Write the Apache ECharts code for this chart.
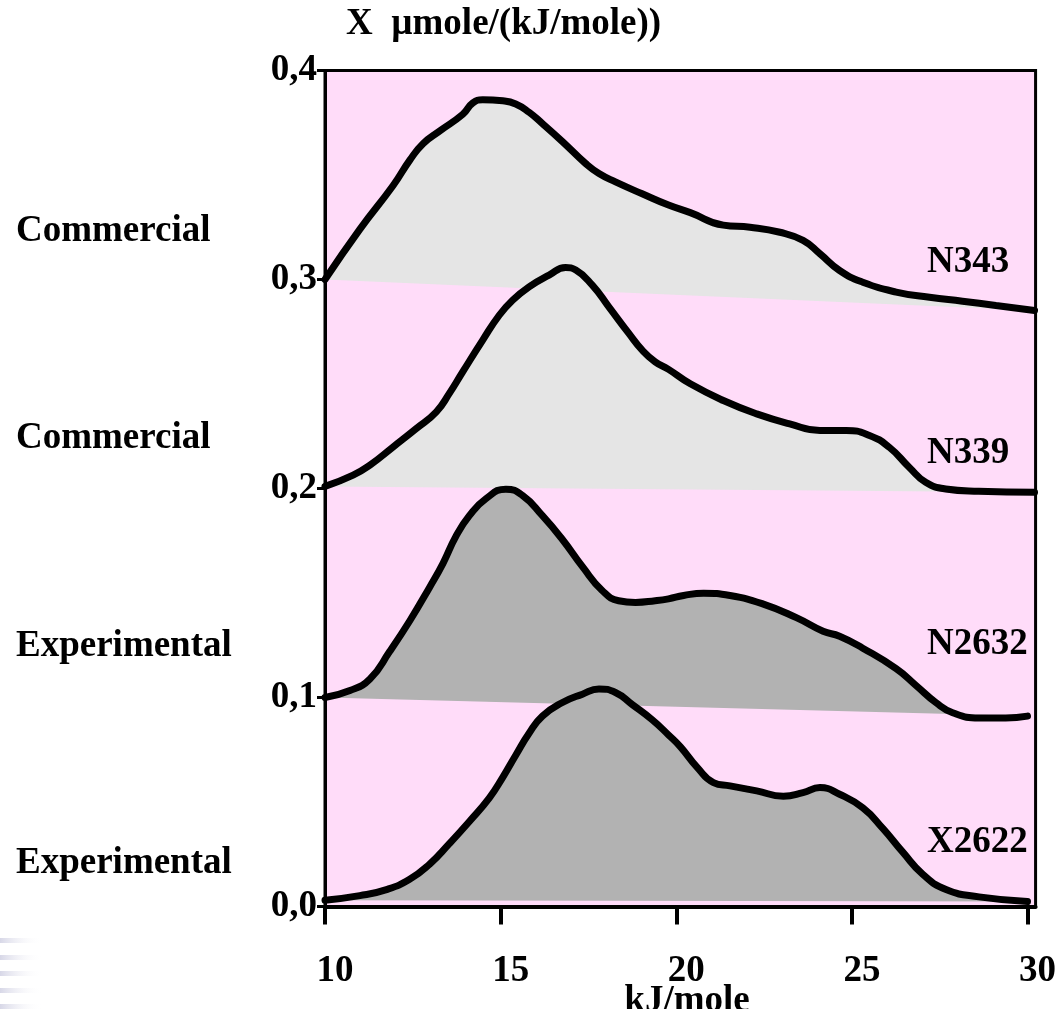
<!DOCTYPE html>
<html>
<head>
<meta charset="utf-8">
<script src="https://cdn.jsdelivr.net/npm/echarts@6/dist/echarts.min.js"></script>
<style>
  html, body { margin: 0; padding: 0; background: #fff; }
  #main { width: 1059px; height: 1009px; }
</style>
</head>
<body>
<div id="main"></div>
<script>
// energy axis (kJ/mole) and distribution values
var n343X = [10, 10.99, 11.94, 12.41, 12.79, 13.26, 13.92, 14.21, 14.49, 15.06, 15.43, 15.81, 16.19, 16.76, 17.42, 17.8, 18.27, 19.03, 19.78, 20.4, 21.34, 22.1, 22.95, 23.61, 24.09, 24.65, 25.31, 26.26, 27.21, 28.15, 29.1, 30.2];
var n343Y = [0.300, 0.324, 0.345, 0.357, 0.365, 0.371, 0.379, 0.3845, 0.386, 0.3855, 0.384, 0.380, 0.3746, 0.366, 0.3555, 0.3507, 0.3467, 0.341, 0.3356, 0.332, 0.326, 0.325, 0.3226, 0.3187, 0.3123, 0.3043, 0.2987, 0.294, 0.2915, 0.2896, 0.2876, 0.2852];

var n339X = [10, 10.8, 11.28, 11.94, 12.6, 13.17, 13.54, 13.92, 14.49, 14.96, 15.34, 15.81, 16.38, 16.85, 17.14, 17.61, 18.08, 18.65, 19.03, 19.4, 19.78, 20.4, 21.34, 22.29, 23.23, 24.09, 24.84, 25.5, 26.06, 26.63, 27.1, 27.67, 28.61, 30.2];
var n339Y = [0.201, 0.2064, 0.2112, 0.2199, 0.2287, 0.2367, 0.2455, 0.2558, 0.271, 0.2829, 0.2901, 0.2965, 0.3021, 0.3057, 0.3045, 0.2973, 0.2869, 0.2742, 0.2662, 0.2606, 0.257, 0.2501, 0.2421, 0.2357, 0.2309, 0.2278, 0.2278, 0.2254, 0.2198, 0.2102, 0.203, 0.1998, 0.1987, 0.1982];

var n2632X = [10, 10.71, 11.28, 11.84, 12.41, 12.98, 13.36, 13.73, 14.11, 14.58, 15.15, 15.62, 16.19, 16.76, 17.33, 17.89, 18.36, 18.84, 19.4, 19.78, 20.21, 20.78, 21.53, 22.48, 23.42, 24.18, 24.65, 25.31, 26.26, 26.83, 27.39, 27.87, 28.62, 29.38, 30];
var n2632Y = [0.100, 0.1033, 0.1089, 0.122, 0.1366, 0.1528, 0.1642, 0.1772, 0.187, 0.1951, 0.1997, 0.1967, 0.187, 0.1756, 0.1626, 0.1512, 0.1463, 0.1455, 0.1463, 0.1472, 0.1488, 0.1499, 0.1488, 0.1447, 0.1382, 0.1317, 0.1293, 0.1236, 0.1138, 0.1057, 0.0976, 0.0927, 0.0902, 0.0902, 0.0911];

var x2622X = [10, 10.99, 11.75, 12.41, 12.98, 13.54, 14.11, 14.68, 15.06, 15.43, 15.81, 16.19, 16.76, 17.33, 17.8, 18.27, 18.74, 19.31, 19.78, 20.12, 20.59, 21.06, 21.53, 22.29, 23.05, 23.61, 24.09, 24.65, 25.31, 25.88, 26.45, 27.02, 27.68, 28.62, 30];
var x2622Y = [0.003, 0.0052, 0.0081, 0.013, 0.0203, 0.0301, 0.0407, 0.052, 0.0618, 0.0724, 0.0829, 0.0911, 0.0976, 0.1016, 0.1041, 0.1024, 0.0967, 0.0894, 0.0821, 0.0764, 0.0667, 0.0593, 0.0577, 0.0553, 0.0528, 0.0545, 0.0569, 0.0537, 0.0472, 0.0374, 0.026, 0.0154, 0.0081, 0.0046, 0.0024];

var xTicks = [10, 15, 20, 25, 30];
var sampleNames = ['N343', 'N339', 'N2632', 'X2622'];
var groupNames = ['Commercial', 'Commercial', 'Experimental', 'Experimental'];

var samples = [
  { x: n343X, y: n343Y, fill: '#e5e5e5' },
  { x: n339X, y: n339Y, fill: '#e5e5e5' },
  { x: n2632X, y: n2632Y, fill: '#b2b2b2' },
  { x: x2622X, y: x2622Y, fill: '#b2b2b2' }
];

var FONT = 'Liberation Serif';
var font37 = 'bold 37px "Liberation Serif"';

var series = [];
samples.forEach(function (s, k) {
  var pairs = s.x.map(function (x, i) { return [x, s.y[i]]; });
  // fill: curve closed straight back to its first point
  series.push({
    type: 'custom',
    z: 2 + k * 2,
    silent: true,
    data: [[s.x[0], s.y[0]]],
    renderItem: function (params, api) {
      var pts = pairs.map(function (p) { return api.coord(p); });
      return {
        type: 'polygon',
        shape: { points: pts },
        style: { fill: s.fill, stroke: null }
      };
    }
  });
  series.push({
    type: 'line',
    z: 3 + k * 2,
    data: pairs,
    showSymbol: false,
    symbol: 'none',
    smooth: 0.5,
    clip: false,
    lineStyle: { color: '#000', width: 7, cap: 'round', join: 'round' }
  });
});

var graphics = [
  { type: 'text', x: 346, y: 24, style: { text: 'X  \u00b5mole/(kJ/mole))', font: font37, fill: '#000', align: 'left', verticalAlign: 'middle' } },
  { type: 'text', x: 687, y: 1001, style: { text: 'kJ/mole', font: font37, fill: '#000', align: 'center', verticalAlign: 'middle' } }
];
var leftY = [231, 438, 646, 863];
var rightY = [262, 453, 644, 842];
for (var i = 0; i < 4; i++) {
  graphics.push({ type: 'text', x: 16, y: leftY[i], style: { text: groupNames[i], font: font37, fill: '#000', align: 'left', verticalAlign: 'middle' } });
  graphics.push({ type: 'text', x: 927, y: rightY[i], style: { text: sampleNames[i], font: font37, fill: '#000', align: 'left', verticalAlign: 'middle' } });
}
// faint stripes in the lower left corner
[941, 958, 974, 991, 1007].forEach(function (y) {
  graphics.push({
    type: 'rect', shape: { x: 0, y: y - 3, width: 42, height: 5 },
    style: { fill: new echarts.graphic.LinearGradient(0, 0, 1, 0, [
      { offset: 0, color: 'rgba(205,205,225,0.8)' },
      { offset: 1, color: 'rgba(255,255,255,0)' }
    ]) }
  });
});

var chart = echarts.init(document.getElementById('main'));
chart.setOption({
  animation: false,
  backgroundColor: '#fff',
  grid: {
    left: 325, right: 21, top: 70.5, bottom: 102.5,
    show: true, backgroundColor: '#ffdcf9', borderColor: '#000', borderWidth: 3
  },
  xAxis: {
    type: 'value', min: 10, max: 30.23,
    splitLine: { show: false },
    axisLine: { lineStyle: { color: '#000', width: 4 } },
    axisTick: { show: true, length: 18, inside: false, customValues: xTicks, lineStyle: { color: '#000', width: 4 } },
    axisLabel: {
      customValues: xTicks, margin: 46, padding: [0, 0, 0, 20],
      color: '#000', fontFamily: FONT, fontWeight: 'bold', fontSize: 37
    }
  },
  yAxis: {
    type: 'value', min: 0, max: 0.4, interval: 0.1,
    splitLine: { show: false },
    axisLine: { show: true, lineStyle: { color: '#000', width: 3 } },
    axisTick: { show: true, length: 8, lineStyle: { color: '#000', width: 3 } },
    axisLabel: {
      margin: 8, color: '#000', fontFamily: FONT, fontWeight: 'bold', fontSize: 37,
      formatter: function (v) { return v.toFixed(1).replace('.', ','); }
    }
  },
  graphic: graphics,
  series: series
});
</script>
</body>
</html>
